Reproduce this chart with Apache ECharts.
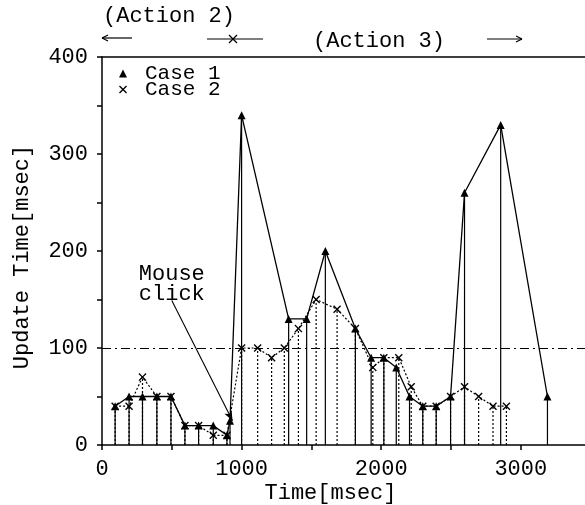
<!DOCTYPE html>
<html>
<head>
<meta charset="utf-8">
<script src="https://cdn.jsdelivr.net/npm/echarts@6/dist/echarts.min.js"></script>
<style>html,body{margin:0;padding:0;background:#fff;}#c{width:585px;height:505px;}</style>
</head>
<body>
<div id="c"></div>
<script>
// Case 1 (triangles, solid)
const case1X = [94, 194, 290, 393, 494, 594, 692, 797, 895, 917, 1000, 1337, 1466, 1600, 1815, 1928, 2019, 2108, 2203, 2298, 2394, 2497, 2597, 2856, 3191];
const case1Y = [40, 50, 50, 50, 50, 20, 20, 20, 10, 25, 340, 130, 130, 200, 120, 90, 90, 80, 50, 40, 40, 50, 260, 330, 50];
// Case 2 (crosses, dotted)
const case2X = [94, 194, 290, 393, 494, 594, 692, 797, 895, 1000, 1115, 1215, 1306, 1407, 1534, 1684, 1815, 1940, 2019, 2126, 2215, 2298, 2394, 2497, 2597, 2698, 2801, 2897];
const case2Y = [40, 40, 70, 50, 50, 20, 20, 10, 10, 100, 100, 90, 100, 120, 150, 140, 120, 80, 90, 90, 60, 40, 40, 50, 60, 50, 40, 40];
const seriesNames = ['Case 1', 'Case 2'];
const xTicks = [0, 1000, 2000, 3000];
const yTicks = [0, 100, 200, 300, 400];
const refLine = 100;

const FONT = 'Liberation Mono';
const xPath = 'path://M0,1.2L1.2,0L5,3.8L8.8,0L10,1.2L6.2,5L10,8.8L8.8,10L5,6.2L1.2,10L0,8.8L3.8,5Z';
const pairs = (xs, ys) => xs.map((x, i) => [x, ys[i]]);
const d1 = pairs(case1X, case1Y);
const d2 = pairs(case2X, case2Y);

function dropRender(dash, width) {
  return function (params, api) {
    const x = api.value(0), y = api.value(1);
    const p0 = api.coord([x, 0]);
    const p1 = api.coord([x, y]);
    return {
      type: 'line',
      shape: { x1: p0[0], y1: p0[1], x2: p1[0], y2: p1[1] },
      style: { stroke: '#000', lineWidth: width, lineDash: dash }
    };
  };
}

const chart = echarts.init(document.getElementById('c'));
const txt = (s, x, y) => ({ type: 'text', x: x, y: y, style: { text: s, font: '22px "' + FONT + '"', fill: '#000', verticalAlign: 'middle' } });
const ln = (x1, y1, x2, y2) => ({ type: 'line', shape: { x1, y1, x2, y2 }, style: { stroke: '#000', lineWidth: 1.2 } });

chart.setOption({
  animation: false,
  backgroundColor: '#fff',
  textStyle: { fontFamily: FONT, color: '#000' },
  grid: { left: 102, right: 0, top: 57, bottom: 60, containLabel: false, outerBoundsMode: 'none' },
  legend: {
    orient: 'vertical', left: 114, top: 58, itemWidth: 8, itemHeight: 8, itemGap: -5,
    textStyle: { fontFamily: FONT, fontSize: 21, color: '#000', padding: [0, 0, 0, 13] },
    data: [{ name: seriesNames[0], icon: 'triangle' }, { name: seriesNames[1], icon: xPath }]
  },
  xAxis: [{
    type: 'value', min: 0, max: 3460, interval: 500,
    name: 'Time[msec]', nameLocation: 'middle', nameGap: 37, nameMoveOverlap: false,
    nameTextStyle: { fontFamily: FONT, fontSize: 22, color: '#000', padding: [0, 26, 0, 0] },
    axisLine: { show: true, lineStyle: { color: '#000', width: 1.5 } },
    axisTick: { show: true, length: 5, lineStyle: { color: '#000', width: 1.5 } },
    axisLabel: { fontFamily: FONT, fontSize: 22, color: '#000', margin: 13, showMaxLabel: false,
      formatter: v => xTicks.indexOf(v) >= 0 ? String(v) : '' },
    splitLine: { show: false }
  }, {
    type: 'value', position: 'top', min: 0, max: 3460,
    axisLine: { show: true, lineStyle: { color: '#000', width: 1.5 } },
    axisTick: { show: false }, axisLabel: { show: false }, splitLine: { show: false }
  }],
  yAxis: {
    type: 'value', min: 0, max: 400, interval: 50,
    name: 'Update Time[msec]', nameLocation: 'middle', nameGap: 69, nameMoveOverlap: false,
    nameTextStyle: { fontFamily: FONT, fontSize: 22, color: '#000', padding: [0, 12, 0, 0] },
    axisLine: { show: true, lineStyle: { color: '#000', width: 1.5 } },
    axisTick: { show: true, length: 5, lineStyle: { color: '#000', width: 1.5 } },
    axisLabel: { fontFamily: FONT, fontSize: 22, color: '#000', margin: 14,
      formatter: v => yTicks.indexOf(v) >= 0 ? String(v) : '' },
    splitLine: { show: false }
  },
  series: [
    {
      name: seriesNames[0] + ' drops', type: 'custom', renderItem: dropRender(null, 1.2),
      data: d1, silent: true, z: 1
    },
    {
      name: seriesNames[1] + ' drops', type: 'custom', renderItem: dropRender([2, 2], 1.2),
      data: d2, silent: true, z: 1
    },
    {
      name: seriesNames[0], type: 'line', data: d1, symbol: 'triangle', symbolSize: 8,
      lineStyle: { color: '#000', width: 1.3 }, itemStyle: { color: '#000' }, z: 3,
      markLine: {
        silent: true, symbol: 'none',
        label: { show: false },
        data: [
          [{ yAxis: refLine, x: 102, lineStyle: { color: '#000', width: 1, type: [9, 4, 2, 4] } }, { yAxis: refLine, x: 585 }],
          [{ coord: [500, 149], symbol: 'none', lineStyle: { color: '#000', width: 1.1, type: 'solid' } },
           { coord: [935, 25], symbol: 'arrow', symbolSize: [6, 10] }]
        ]
      },
      markPoint: {
        silent: true, symbol: 'circle', symbolSize: 0,
        data: [{ coord: [500, 166], label: { show: true, formatter: 'Mouse\nclick', fontFamily: FONT, fontSize: 22, lineHeight: 20, color: '#000', position: 'inside' } }]
      }
    },
    {
      name: seriesNames[1], type: 'line', data: d2, symbol: xPath, symbolSize: 8,
      lineStyle: { color: '#000', width: 1.2, type: [2, 2] }, itemStyle: { color: '#000' }, z: 2
    }
  ],
  graphic: [
    txt('(Action 2)', 103, 16),
    ln(102, 38, 132, 38), ln(102, 38, 108, 35), ln(102, 38, 108, 41),
    ln(207, 39, 263, 39), ln(229, 35, 237, 43), ln(229, 43, 237, 35),
    txt('(Action 3)', 313, 41),
    ln(487, 39, 522, 39), ln(522, 39, 516, 36), ln(522, 39, 516, 42)
  ]
});
</script>
</body>
</html>
